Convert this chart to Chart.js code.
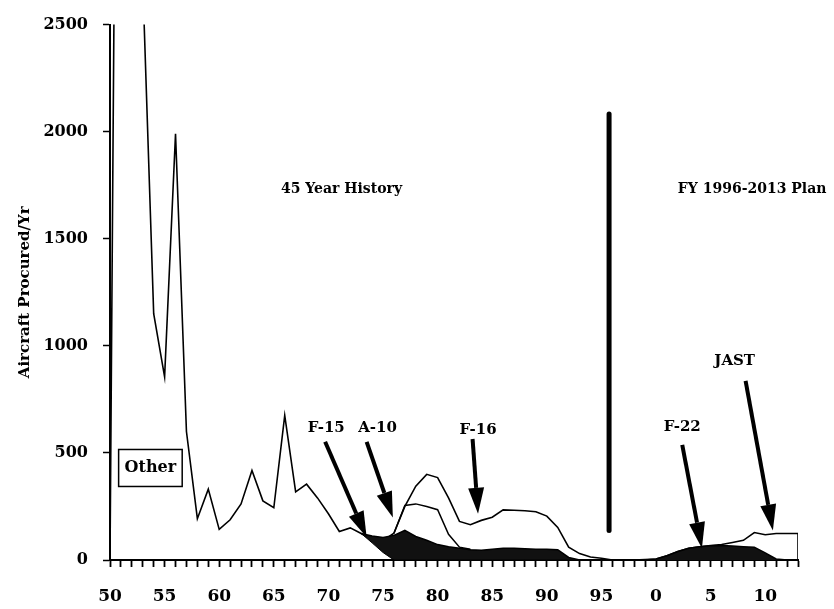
<!DOCTYPE html>
<html>
<head>
<meta charset="utf-8">
<script src="https://cdn.jsdelivr.net/npm/chart.js@4/dist/chart.umd.min.js"></script>
<style>
  html, body { margin: 0; padding: 0; background: #fff; }
  #wrap { width: 834px; height: 609px; }
</style>
</head>
<body>
<div id="wrap"><canvas id="chart"></canvas></div>
<script>
// fiscal years on the x axis
const years = [
  1950, 1951, 1952, 1953, 1954, 1955, 1956, 1957, 1958, 1959,
  1960, 1961, 1962, 1963, 1964, 1965, 1966, 1967, 1968, 1969,
  1970, 1971, 1972, 1973, 1974, 1975, 1976, 1977, 1978, 1979,
  1980, 1981, 1982, 1983, 1984, 1985, 1986, 1987, 1988, 1989,
  1990, 1991, 1992, 1993, 1994, 1995, 1996, 1997, 1998, 1999,
  2000, 2001, 2002, 2003, 2004, 2005, 2006, 2007, 2008, 2009,
  2010, 2011, 2012, 2013
];

// top line: all aircraft procured per year (1951-53 run off the top of the chart)
const totalProcured = [
  0, 7000, 6000, 2700, 1150, 855, 1990, 600, 193, 331,
  143, 188, 262, 418, 276, 244, 675, 318, 354, 290,
  216, 133, 150, 124, 95, 90, 125, 250, 345, 400,
  385, 290, 180, 165, 185, 200, 234, 232, 230, 225,
  205, 152, 60, 30, 14, 8, 0, 0, 0, 2,
  5, 20, 40, 55, 62, 68, 72, 82, 92, 128,
  118, 124, 124, 124
];

// stacked boundary under F-16 (top of A-10 band), 1976-1983
const a10Top = {
  1976: 125, 1977: 255, 1978: 262, 1979: 250, 1980: 235, 1981: 120, 1982: 60, 1983: 50
};

// dark F-15 band, 1973-1993: upper and lower edges
const f15Top = [124, 112, 105, 115, 138, 110, 92, 72, 62, 55, 48, 46, 50, 55, 55, 52, 50, 50, 48, 12, 0];
const f15Base = [124, 80, 35, 0, 0, 0, 0, 0, 0, 0, 0, 0, 0, 0, 0, 0, 0, 0, 0, 0, 0];
const f15Years = years.slice(years.indexOf(1973), years.indexOf(1993) + 1);

// dark F-22 band, 1998-2013
const f22Top = [0, 0, 5, 20, 40, 55, 62, 66, 68, 65, 62, 60, 33, 5, 0, 0];
const f22Years = years.slice(years.indexOf(1998));

const yTicks = [0, 500, 1000, 1500, 2000, 2500];

// annotations, in data units
const arrows = [
  { from: [1969.7, 552], to: [1973.5, 106] },  // F-15
  { from: [1973.5, 552], to: [1975.9, 198] },  // A-10
  { from: [1983.2, 565], to: [1983.7, 216] },  // F-16
  { from: [2002.4, 538], to: [2004.2, 55] },   // F-22
  { from: [2008.2, 836], to: [2010.7, 138] }   // JAST
];
const notes = [
  { text: '45 Year History', x: 1971.2, y: 1733, size: 14 },
  { text: 'FY 1996-2013 Plan', x: 2008.8, y: 1733, size: 14 },
  { text: 'F-15', x: 1969.8, y: 616 },
  { text: 'A-10', x: 1974.5, y: 616 },
  { text: 'F-16', x: 1983.7, y: 607 },
  { text: 'F-22', x: 2002.4, y: 620 },
  { text: 'JAST', x: 2007.2, y: 928 },
  { text: 'Other', x: 1953.7, y: 432, size: 16, box: true }
];
const divider = { x: 1995.7, from: 138, to: 2082 };

const FONT = 'DejaVu Serif';

function pts(xs, ys) {
  return xs.map((x, i) => ({ x: x, y: ys[i] }));
}

const totalData = pts(years, totalProcured);
totalData.push({ x: years[years.length - 1], y: 0 });

const a10Data = Object.keys(a10Top).map(k => ({ x: +k, y: a10Top[k] }));

const annotate = {
  id: 'annotate',
  afterDatasetsDraw(chart) {
    const { ctx, scales: { x, y } } = chart;
    ctx.save();
    ctx.fillStyle = '#000';
    ctx.strokeStyle = '#000';

    // plan divider
    ctx.lineWidth = 5;
    ctx.lineCap = 'round';
    ctx.beginPath();
    ctx.moveTo(x.getPixelForValue(divider.x), y.getPixelForValue(divider.to));
    ctx.lineTo(x.getPixelForValue(divider.x), y.getPixelForValue(divider.from));
    ctx.stroke();

    // arrows
    arrows.forEach(a => {
      const x0 = x.getPixelForValue(a.from[0]), y0 = y.getPixelForValue(a.from[1]);
      const x1 = x.getPixelForValue(a.to[0]), y1 = y.getPixelForValue(a.to[1]);
      const ang = Math.atan2(y1 - y0, x1 - x0);
      const headLen = 26, headW = 8;
      const bx = x1 - headLen * Math.cos(ang), by = y1 - headLen * Math.sin(ang);
      ctx.lineWidth = 4;
      ctx.lineCap = 'butt';
      ctx.beginPath();
      ctx.moveTo(x0, y0);
      ctx.lineTo(bx, by);
      ctx.stroke();
      ctx.beginPath();
      ctx.moveTo(x1, y1);
      ctx.lineTo(bx + headW * Math.sin(ang), by - headW * Math.cos(ang));
      ctx.lineTo(bx - headW * Math.sin(ang), by + headW * Math.cos(ang));
      ctx.closePath();
      ctx.fill();
    });

    // text labels
    ctx.textAlign = 'center';
    ctx.textBaseline = 'middle';
    notes.forEach(n => {
      const px = x.getPixelForValue(n.x), py = y.getPixelForValue(n.y);
      ctx.font = 'bold ' + (n.size || 15) + 'px "' + FONT + '"';
      if (n.box) {
        const w = ctx.measureText(n.text).width + 12;
        ctx.lineWidth = 1.5;
        ctx.strokeRect(px - w / 2, py - 18, w, 37);
      }
      ctx.fillText(n.text, px, py);
    });
    ctx.restore();
  }
};

new Chart(document.getElementById('chart'), {
  type: 'line',
  data: {
    datasets: [
      {
        label: 'F-15 base',
        data: pts(f15Years, f15Base),
        borderColor: '#000',
        borderWidth: 1,
        pointRadius: 0,
        fill: false
      },
      {
        label: 'F-15',
        data: pts(f15Years, f15Top),
        borderColor: '#000',
        borderWidth: 1.5,
        backgroundColor: '#111',
        pointRadius: 0,
        fill: 0
      },
      {
        label: 'F-22',
        data: pts(f22Years, f22Top),
        borderColor: '#000',
        borderWidth: 1.5,
        backgroundColor: '#111',
        pointRadius: 0,
        fill: 'origin'
      },
      {
        label: 'A-10',
        data: a10Data,
        borderColor: '#000',
        borderWidth: 1.5,
        pointRadius: 0,
        fill: false
      },
      {
        label: 'Total',
        data: totalData,
        borderColor: '#000',
        borderWidth: 1.6,
        pointRadius: 0,
        fill: false
      }
    ]
  },
  options: {
    responsive: true,
    maintainAspectRatio: false,
    animation: false,
    layout: { padding: { left: 12, top: 16, right: 36, bottom: 0 } },
    plugins: {
      legend: { display: false },
      tooltip: { enabled: false }
    },
    scales: {
      x: {
        type: 'linear',
        min: 1950,
        max: 2013,
        afterFit: s => { s.height = 49; },
        afterBuildTicks: s => { s.ticks = years.map(v => ({ value: v })); },
        ticks: {
          autoSkip: false,
          maxRotation: 0,
          color: '#000',
          padding: 19,
          font: { family: FONT, weight: 'bold', size: 17 },
          callback: v => (v % 5 === 0 ? String(v % 100) : '')
        },
        grid: { drawOnChartArea: false, color: '#000', tickLength: 7, tickWidth: 1.8 },
        border: { color: '#000', width: 2 }
      },
      y: {
        min: 0,
        max: 2500,
        afterFit: s => { s.width = 98; },
        afterBuildTicks: s => { s.ticks = yTicks.map(v => ({ value: v })); },
        ticks: {
          color: '#000',
          padding: 15,
          font: { family: FONT, weight: 'bold', size: 16 },
          callback: v => String(v)
        },
        grid: { drawOnChartArea: false, color: '#000', tickLength: 7, tickWidth: 1.5 },
        border: { color: '#000', width: 2 },
        title: {
          display: true,
          text: 'Aircraft Procured/Yr',
          color: '#000',
          padding: { top: 4, bottom: 4 },
          font: { family: FONT, weight: 'bold', size: 15 }
        }
      }
    }
  },
  plugins: [annotate]
});
</script>
</body>
</html>
